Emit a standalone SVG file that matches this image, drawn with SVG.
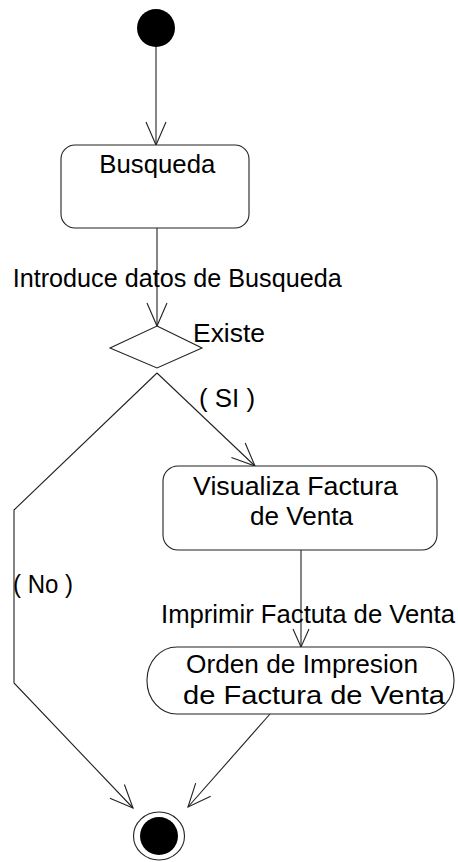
<svg xmlns="http://www.w3.org/2000/svg" width="458" height="862" viewBox="0 0 458 862">
<style>
.node{fill:#fff;stroke:#222;stroke-width:1.1}
.ln{fill:none;stroke:#222;stroke-width:1.1}
text{font-family:"Liberation Sans",Arial,sans-serif;font-size:25px;fill:#000}
</style>
<defs>
<marker id="arr" markerUnits="userSpaceOnUse" viewBox="-25 -12 27 24" markerWidth="27" markerHeight="24" refX="0" refY="0" orient="auto" overflow="visible">
<path d="M-23,-10 L0,0 L-23,10" fill="none" stroke="#222" stroke-width="1.1"/>
</marker>
<marker id="arrs" markerUnits="userSpaceOnUse" viewBox="-20 -10 22 20" markerWidth="22" markerHeight="20" refX="0" refY="0" orient="auto" overflow="visible">
<path d="M-18,-8 L0,0 L-18,8" fill="none" stroke="#222" stroke-width="1.1"/>
</marker>
</defs>
<rect width="458" height="862" fill="#fff"/>
<g id="connectors">
<path class="ln" d="M156,47 L156,145" marker-end="url(#arr)"/>
<path class="ln" d="M157,228 L157,326" marker-end="url(#arr)"/>
<path class="ln" d="M157,373 L255,466" marker-end="url(#arr)"/>
<path class="ln" d="M157,373 L14,510 L14,683 L133,808" marker-end="url(#arr)"/>
<path class="ln" d="M301,550 L301,647" marker-end="url(#arrs)"/>
<path class="ln" d="M270,714 L188,807" marker-end="url(#arr)"/>
<text x="12.7" y="287" textLength="329" lengthAdjust="spacingAndGlyphs">Introduce datos de Busqueda</text>
<text x="199" y="407" textLength="56" lengthAdjust="spacingAndGlyphs">( SI )</text>
<text x="13" y="593" textLength="60" lengthAdjust="spacingAndGlyphs">( No )</text>
<text x="161" y="623" textLength="294" lengthAdjust="spacingAndGlyphs">Imprimir Factuta de Venta</text>
</g>
<g id="start">
<circle cx="156" cy="28" r="19" fill="#000"/>
</g>
<g id="busqueda">
<rect class="node" x="61" y="145" width="188" height="83" rx="14"/>
<text x="99.3" y="173" textLength="116" lengthAdjust="spacingAndGlyphs">Busqueda</text>
</g>
<g id="existe">
<polygon class="node" points="157,326 202,348 157,368 110,348"/>
<text x="193" y="342" textLength="72" lengthAdjust="spacingAndGlyphs">Existe</text>
</g>
<g id="visualiza">
<rect class="node" x="163" y="466" width="274" height="84" rx="15"/>
<text x="193" y="495" textLength="205" lengthAdjust="spacingAndGlyphs">Visualiza Factura</text>
<text x="250" y="525" textLength="103" lengthAdjust="spacingAndGlyphs">de Venta</text>
</g>
<g id="orden">
<rect class="node" x="147" y="647" width="307" height="67" rx="30" ry="33"/>
<text x="186" y="673" textLength="232" lengthAdjust="spacingAndGlyphs">Orden de Impresion</text>
<text x="183" y="704" textLength="262" lengthAdjust="spacingAndGlyphs">de Factura de Venta</text>
</g>
<g id="end">
<ellipse cx="159" cy="836" rx="25.5" ry="24" fill="#fff" stroke="#222" stroke-width="1.1"/>
<circle cx="159" cy="836" r="19" fill="#000"/>
</g>
</svg>
